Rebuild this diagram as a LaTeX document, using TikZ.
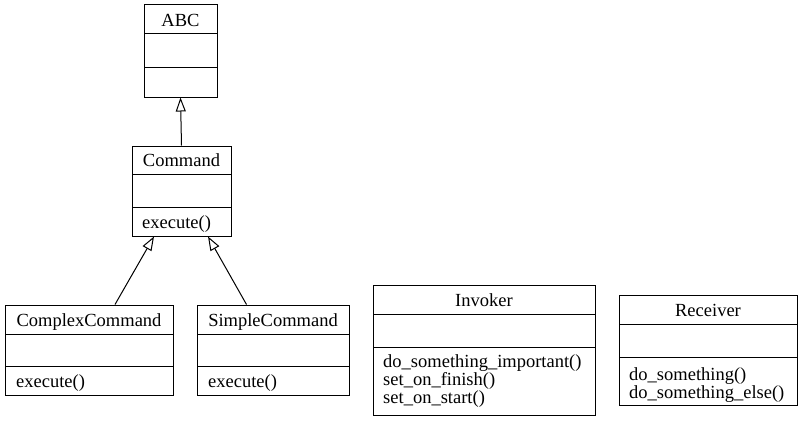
\documentclass[tikz,border=0pt]{standalone}
\usepackage{fontspec}
\setmainfont{Liberation Serif}
\usetikzlibrary{arrows.meta}
\begin{document}
\begin{tikzpicture}[x=1pt,y=-1pt,
  classbox/.style={draw,line width=1pt,rectangle,inner sep=0pt},
  divider/.style={line width=1pt},
  title/.style={inner sep=0pt,anchor=base,font=\fontsize{18.5}{18}\selectfont},
  meth/.style={inner sep=0pt,anchor=base west,font=\fontsize{18.5}{18}\selectfont,align=left},
  inherit/.style={line width=1pt,-{Triangle[open,length=14pt,width=10pt]}}]
\useasboundingbox (0,0) rectangle (802,420);
% ABC
\node[classbox,minimum width=73pt,minimum height=92pt] (abc) at (180.5,51) {};
\draw[divider] (144,34) -- (217,34) (144,67) -- (217,67);
\node[title] (abct) at (180.5,26.5) {ABC};
% Command
\node[classbox,minimum width=99pt,minimum height=90pt] (cmd) at (181.5,191) {};
\draw[divider] (132,174) -- (231,174) (132,207) -- (231,207);
\node[title] (cmdt) at (181.5,166.5) {Command};
\node[meth] (cmdm) at (142,228) {execute()};
% ComplexCommand
\node[classbox,minimum width=168pt,minimum height=90pt] (cc) at (89,350) {};
\draw[divider] (5,334) -- (173,334) (5,366) -- (173,366);
\node[title] (cct) at (89,326) {ComplexCommand};
\node[meth] (ccm) at (16,387) {execute()};
% SimpleCommand
\node[classbox,minimum width=152pt,minimum height=90pt] (sc) at (273,350) {};
\draw[divider] (197,334) -- (349,334) (197,366) -- (349,366);
\node[title] (sct) at (273,326) {SimpleCommand};
\node[meth] (scm) at (208,387) {execute()};
% Invoker
\node[classbox,minimum width=222pt,minimum height=130pt] (inv) at (484,350) {};
\draw[divider] (373,314) -- (595,314) (373,347) -- (595,347);
\node[title] (invt) at (484,306) {Invoker};
\node[meth] (invm1) at (383,367.5) {do\_something\_important()};
\node[meth] (invm2) at (383,385.5) {set\_on\_finish()};
\node[meth] (invm3) at (383,403.5) {set\_on\_start()};
% Receiver
\node[classbox,minimum width=178pt,minimum height=110pt] (rec) at (708,350) {};
\draw[divider] (619,324) -- (797,324) (619,357) -- (797,357);
\node[title] (rect) at (708,316) {Receiver};
\node[meth] (recm1) at (629,380) {do\_something()};
\node[meth] (recm2) at (629,398) {do\_something\_else()};
% inheritance
\draw[inherit] (cmd.north) -- (abc.south);
\draw[inherit] ([xshift=26pt]cc.north) -- ([xshift=-27.5pt]cmd.south);
\draw[inherit] ([xshift=-26.5pt]sc.north) -- ([xshift=26.5pt]cmd.south);
\end{tikzpicture}
\end{document}
